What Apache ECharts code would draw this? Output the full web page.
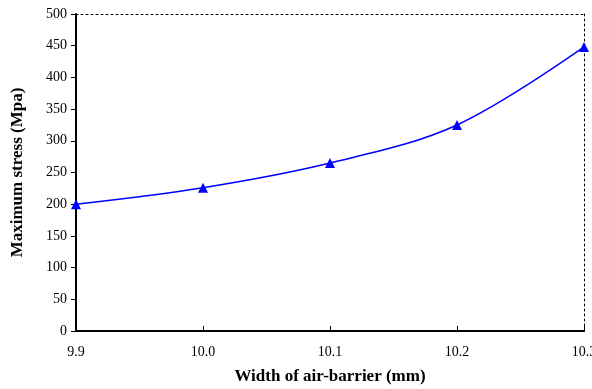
<!DOCTYPE html>
<html><head><meta charset="utf-8">
<script src="https://cdn.jsdelivr.net/npm/echarts@6/dist/echarts.min.js"></script>
<style>html,body{margin:0;padding:0;background:#fff;overflow:hidden}#c{width:592px;height:389px}</style>
</head><body><div id="c"></div>
<script>
const categories = ['9.9', '10.0', '10.1', '10.2', '10.3'];
const stress = [200, 226, 265, 325, 448];
const yTicks = { min: 0, max: 500, interval: 50 };

const chart = echarts.init(document.getElementById('c'));
const font = 'Liberation Serif, Times New Roman, serif';
chart.setOption({
  animation: false,
  backgroundColor: '#fff',
  grid: { left: 76, right: 8, top: 14, bottom: 58, containLabel: false, outerBoundsMode: 'none' },
  xAxis: [{
    type: 'category', data: categories, boundaryGap: false, position: 'bottom',
    name: 'Width of air-barrier (mm)', nameLocation: 'middle', nameGap: 37,
    nameTextStyle: { fontFamily: font, fontWeight: 'bold', fontSize: 17, color: '#000' },
    axisLine: { onZero: false, lineStyle: { color: '#000', width: 2 } },
    axisTick: { inside: true, length: 5, lineStyle: { color: '#000' } },
    axisLabel: { fontFamily: font, fontSize: 14, color: '#000', margin: 14, hideOverlap: false },
    splitLine: { show: false }
  }, {
    type: 'category', data: categories, boundaryGap: false, position: 'top',
    axisLine: { show: true, onZero: false, lineStyle: { color: '#000', width: 1, type: [2, 3] } },
    axisTick: { show: false }, axisLabel: { show: false }, splitLine: { show: false }
  }],
  yAxis: [{
    type: 'value', min: yTicks.min, max: yTicks.max, interval: yTicks.interval, position: 'left',
    name: 'Maximum stress (Mpa)', nameLocation: 'middle', nameGap: 50,
    nameTextStyle: { fontFamily: font, fontWeight: 'bold', fontSize: 17, color: '#000' },
    axisLine: { show: true, onZero: false, lineStyle: { color: '#000', width: 2 } },
    axisTick: { show: true, length: 5, lineStyle: { color: '#000' } },
    axisLabel: { fontFamily: font, fontSize: 14, color: '#000', margin: 9 },
    splitLine: { show: false }
  }, {
    type: 'value', min: yTicks.min, max: yTicks.max, interval: yTicks.interval, position: 'right',
    axisLine: { show: true, onZero: false, lineStyle: { color: '#000', width: 1, type: [2, 3] } },
    axisTick: { show: false }, axisLabel: { show: false }, splitLine: { show: false }
  }],
  series: [{
    type: 'line', data: stress, smooth: 0.35,
    symbol: 'triangle', symbolSize: 10,
    lineStyle: { color: '#0000ff', width: 1.5 },
    itemStyle: { color: '#0000ff' }
  }]
});
</script></body></html>
